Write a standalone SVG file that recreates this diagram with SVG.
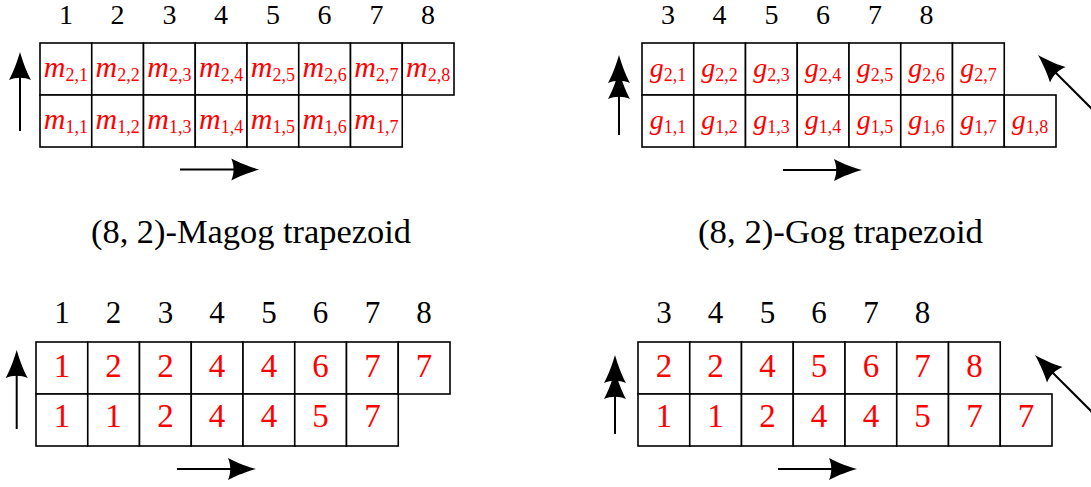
<svg xmlns="http://www.w3.org/2000/svg" xmlns:xlink="http://www.w3.org/1999/xlink" width="1091" height="487" viewBox="0 0 1091 487">
<style>
.cell{fill:#fff;stroke:#000;stroke-width:1.6}
.num{font-family:"Liberation Serif",serif;fill:#000;text-anchor:middle}
.n1{font-size:28px}
.n2{font-size:31px}
.lab{font-family:"Liberation Serif",serif;fill:#ff0000;text-anchor:middle;font-size:28px}
.lab .v{font-style:italic}
.lab .mv{font-style:italic;font-size:30px}
.lab .s{font-size:18px}
.val{font-family:"Liberation Serif",serif;fill:#ff0000;text-anchor:middle;font-size:33px}
.cap{font-family:"Liberation Serif",serif;fill:#000;font-size:34px}
.ln{stroke:#000;stroke-width:2;fill:none}
.hd{fill:#000}
</style>
<defs>
<path id="ah" class="hd" d="M0,0 C-7,-2 -19,-6 -28,-11 C-25,-4 -25,4 -28,11 C-19,6 -7,2 0,0Z"/>
</defs>

<!-- Magog symbolic -->
<g id="magog-sym">
<g id="magog-sym-cols" class="num n1">
<text x="65.9" y="24">1</text><text x="117.6" y="24">2</text><text x="169.4" y="24">3</text><text x="221.1" y="24">4</text><text x="272.9" y="24">5</text><text x="324.6" y="24">6</text><text x="376.4" y="24">7</text><text x="428.1" y="24">8</text>
</g>
<g id="m21"><rect class="cell" x="40" y="43" width="51.75" height="52"/><text class="lab" x="65.9" y="77"><tspan class="mv">m</tspan><tspan class="s" dy="4">2,1</tspan></text></g>
<g id="m22"><rect class="cell" x="91.75" y="43" width="51.75" height="52"/><text class="lab" x="117.6" y="77"><tspan class="mv">m</tspan><tspan class="s" dy="4">2,2</tspan></text></g>
<g id="m23"><rect class="cell" x="143.5" y="43" width="51.75" height="52"/><text class="lab" x="169.4" y="77"><tspan class="mv">m</tspan><tspan class="s" dy="4">2,3</tspan></text></g>
<g id="m24"><rect class="cell" x="195.25" y="43" width="51.75" height="52"/><text class="lab" x="221.1" y="77"><tspan class="mv">m</tspan><tspan class="s" dy="4">2,4</tspan></text></g>
<g id="m25"><rect class="cell" x="247" y="43" width="51.75" height="52"/><text class="lab" x="272.9" y="77"><tspan class="mv">m</tspan><tspan class="s" dy="4">2,5</tspan></text></g>
<g id="m26"><rect class="cell" x="298.75" y="43" width="51.75" height="52"/><text class="lab" x="324.6" y="77"><tspan class="mv">m</tspan><tspan class="s" dy="4">2,6</tspan></text></g>
<g id="m27"><rect class="cell" x="350.5" y="43" width="51.75" height="52"/><text class="lab" x="376.4" y="77"><tspan class="mv">m</tspan><tspan class="s" dy="4">2,7</tspan></text></g>
<g id="m28"><rect class="cell" x="402.25" y="43" width="51.75" height="52"/><text class="lab" x="428.1" y="77"><tspan class="mv">m</tspan><tspan class="s" dy="4">2,8</tspan></text></g>
<g id="m11"><rect class="cell" x="40" y="95" width="51.75" height="52"/><text class="lab" x="65.9" y="129"><tspan class="mv">m</tspan><tspan class="s" dy="4">1,1</tspan></text></g>
<g id="m12"><rect class="cell" x="91.75" y="95" width="51.75" height="52"/><text class="lab" x="117.6" y="129"><tspan class="mv">m</tspan><tspan class="s" dy="4">1,2</tspan></text></g>
<g id="m13"><rect class="cell" x="143.5" y="95" width="51.75" height="52"/><text class="lab" x="169.4" y="129"><tspan class="mv">m</tspan><tspan class="s" dy="4">1,3</tspan></text></g>
<g id="m14"><rect class="cell" x="195.25" y="95" width="51.75" height="52"/><text class="lab" x="221.1" y="129"><tspan class="mv">m</tspan><tspan class="s" dy="4">1,4</tspan></text></g>
<g id="m15"><rect class="cell" x="247" y="95" width="51.75" height="52"/><text class="lab" x="272.9" y="129"><tspan class="mv">m</tspan><tspan class="s" dy="4">1,5</tspan></text></g>
<g id="m16"><rect class="cell" x="298.75" y="95" width="51.75" height="52"/><text class="lab" x="324.6" y="129"><tspan class="mv">m</tspan><tspan class="s" dy="4">1,6</tspan></text></g>
<g id="m17"><rect class="cell" x="350.5" y="95" width="51.75" height="52"/><text class="lab" x="376.4" y="129"><tspan class="mv">m</tspan><tspan class="s" dy="4">1,7</tspan></text></g>
</g>
<text id="cap-magog" class="cap" x="91" y="243" textLength="320" lengthAdjust="spacingAndGlyphs">(8, 2)-Magog trapezoid</text>

<!-- Gog symbolic -->
<g id="gog-sym">
<g id="gog-sym-cols" class="num n1">
<text x="667.9" y="24">3</text><text x="719.6" y="24">4</text><text x="771.4" y="24">5</text><text x="823.1" y="24">6</text><text x="874.9" y="24">7</text><text x="926.6" y="24">8</text>
</g>
<g id="g21"><rect class="cell" x="642" y="43" width="51.75" height="52"/><text class="lab" x="667.9" y="77"><tspan class="v">g</tspan><tspan class="s" dy="4">2,1</tspan></text></g>
<g id="g22"><rect class="cell" x="693.75" y="43" width="51.75" height="52"/><text class="lab" x="719.6" y="77"><tspan class="v">g</tspan><tspan class="s" dy="4">2,2</tspan></text></g>
<g id="g23"><rect class="cell" x="745.5" y="43" width="51.75" height="52"/><text class="lab" x="771.4" y="77"><tspan class="v">g</tspan><tspan class="s" dy="4">2,3</tspan></text></g>
<g id="g24"><rect class="cell" x="797.25" y="43" width="51.75" height="52"/><text class="lab" x="823.1" y="77"><tspan class="v">g</tspan><tspan class="s" dy="4">2,4</tspan></text></g>
<g id="g25"><rect class="cell" x="849" y="43" width="51.75" height="52"/><text class="lab" x="874.9" y="77"><tspan class="v">g</tspan><tspan class="s" dy="4">2,5</tspan></text></g>
<g id="g26"><rect class="cell" x="900.75" y="43" width="51.75" height="52"/><text class="lab" x="926.6" y="77"><tspan class="v">g</tspan><tspan class="s" dy="4">2,6</tspan></text></g>
<g id="g27"><rect class="cell" x="952.5" y="43" width="51.75" height="52"/><text class="lab" x="978.4" y="77"><tspan class="v">g</tspan><tspan class="s" dy="4">2,7</tspan></text></g>
<g id="g11"><rect class="cell" x="642" y="95" width="51.75" height="52"/><text class="lab" x="667.9" y="129"><tspan class="v">g</tspan><tspan class="s" dy="4">1,1</tspan></text></g>
<g id="g12"><rect class="cell" x="693.75" y="95" width="51.75" height="52"/><text class="lab" x="719.6" y="129"><tspan class="v">g</tspan><tspan class="s" dy="4">1,2</tspan></text></g>
<g id="g13"><rect class="cell" x="745.5" y="95" width="51.75" height="52"/><text class="lab" x="771.4" y="129"><tspan class="v">g</tspan><tspan class="s" dy="4">1,3</tspan></text></g>
<g id="g14"><rect class="cell" x="797.25" y="95" width="51.75" height="52"/><text class="lab" x="823.1" y="129"><tspan class="v">g</tspan><tspan class="s" dy="4">1,4</tspan></text></g>
<g id="g15"><rect class="cell" x="849" y="95" width="51.75" height="52"/><text class="lab" x="874.9" y="129"><tspan class="v">g</tspan><tspan class="s" dy="4">1,5</tspan></text></g>
<g id="g16"><rect class="cell" x="900.75" y="95" width="51.75" height="52"/><text class="lab" x="926.6" y="129"><tspan class="v">g</tspan><tspan class="s" dy="4">1,6</tspan></text></g>
<g id="g17"><rect class="cell" x="952.5" y="95" width="51.75" height="52"/><text class="lab" x="978.4" y="129"><tspan class="v">g</tspan><tspan class="s" dy="4">1,7</tspan></text></g>
<g id="g18"><rect class="cell" x="1004.25" y="95" width="51.75" height="52"/><text class="lab" x="1030.1" y="129"><tspan class="v">g</tspan><tspan class="s" dy="4">1,8</tspan></text></g>
</g>
<text id="cap-gog" class="cap" x="698" y="243" textLength="285" lengthAdjust="spacingAndGlyphs">(8, 2)-Gog trapezoid</text>

<!-- Magog numeric -->
<g id="magog-num">
<g id="magog-num-cols" class="num n2">
<text x="61.9" y="323">1</text><text x="113.6" y="323">2</text><text x="165.4" y="323">3</text><text x="217.1" y="323">4</text><text x="268.9" y="323">5</text><text x="320.6" y="323">6</text><text x="372.4" y="323">7</text><text x="424.1" y="323">8</text>
</g>
<g id="mn21"><rect class="cell" x="36" y="342" width="51.75" height="52"/><text class="val" x="61.9" y="377">1</text></g>
<g id="mn22"><rect class="cell" x="87.75" y="342" width="51.75" height="52"/><text class="val" x="113.6" y="377">2</text></g>
<g id="mn23"><rect class="cell" x="139.5" y="342" width="51.75" height="52"/><text class="val" x="165.4" y="377">2</text></g>
<g id="mn24"><rect class="cell" x="191.25" y="342" width="51.75" height="52"/><text class="val" x="217.1" y="377">4</text></g>
<g id="mn25"><rect class="cell" x="243" y="342" width="51.75" height="52"/><text class="val" x="268.9" y="377">4</text></g>
<g id="mn26"><rect class="cell" x="294.75" y="342" width="51.75" height="52"/><text class="val" x="320.6" y="377">6</text></g>
<g id="mn27"><rect class="cell" x="346.5" y="342" width="51.75" height="52"/><text class="val" x="372.4" y="377">7</text></g>
<g id="mn28"><rect class="cell" x="398.25" y="342" width="51.75" height="52"/><text class="val" x="424.1" y="377">7</text></g>
<g id="mn11"><rect class="cell" x="36" y="394" width="51.75" height="52"/><text class="val" x="61.9" y="427">1</text></g>
<g id="mn12"><rect class="cell" x="87.75" y="394" width="51.75" height="52"/><text class="val" x="113.6" y="427">1</text></g>
<g id="mn13"><rect class="cell" x="139.5" y="394" width="51.75" height="52"/><text class="val" x="165.4" y="427">2</text></g>
<g id="mn14"><rect class="cell" x="191.25" y="394" width="51.75" height="52"/><text class="val" x="217.1" y="427">4</text></g>
<g id="mn15"><rect class="cell" x="243" y="394" width="51.75" height="52"/><text class="val" x="268.9" y="427">4</text></g>
<g id="mn16"><rect class="cell" x="294.75" y="394" width="51.75" height="52"/><text class="val" x="320.6" y="427">5</text></g>
<g id="mn17"><rect class="cell" x="346.5" y="394" width="51.75" height="52"/><text class="val" x="372.4" y="427">7</text></g>
</g>

<!-- Gog numeric -->
<g id="gog-num">
<g id="gog-num-cols" class="num n2">
<text x="663.9" y="323">3</text><text x="715.6" y="323">4</text><text x="767.4" y="323">5</text><text x="819.1" y="323">6</text><text x="870.9" y="323">7</text><text x="922.6" y="323">8</text>
</g>
<g id="gn21"><rect class="cell" x="638" y="342" width="51.75" height="52"/><text class="val" x="663.9" y="377">2</text></g>
<g id="gn22"><rect class="cell" x="689.75" y="342" width="51.75" height="52"/><text class="val" x="715.6" y="377">2</text></g>
<g id="gn23"><rect class="cell" x="741.5" y="342" width="51.75" height="52"/><text class="val" x="767.4" y="377">4</text></g>
<g id="gn24"><rect class="cell" x="793.25" y="342" width="51.75" height="52"/><text class="val" x="819.1" y="377">5</text></g>
<g id="gn25"><rect class="cell" x="845" y="342" width="51.75" height="52"/><text class="val" x="870.9" y="377">6</text></g>
<g id="gn26"><rect class="cell" x="896.75" y="342" width="51.75" height="52"/><text class="val" x="922.6" y="377">7</text></g>
<g id="gn27"><rect class="cell" x="948.5" y="342" width="51.75" height="52"/><text class="val" x="974.4" y="377">8</text></g>
<g id="gn11"><rect class="cell" x="638" y="394" width="51.75" height="52"/><text class="val" x="663.9" y="427">1</text></g>
<g id="gn12"><rect class="cell" x="689.75" y="394" width="51.75" height="52"/><text class="val" x="715.6" y="427">1</text></g>
<g id="gn13"><rect class="cell" x="741.5" y="394" width="51.75" height="52"/><text class="val" x="767.4" y="427">2</text></g>
<g id="gn14"><rect class="cell" x="793.25" y="394" width="51.75" height="52"/><text class="val" x="819.1" y="427">4</text></g>
<g id="gn15"><rect class="cell" x="845" y="394" width="51.75" height="52"/><text class="val" x="870.9" y="427">4</text></g>
<g id="gn16"><rect class="cell" x="896.75" y="394" width="51.75" height="52"/><text class="val" x="922.6" y="427">5</text></g>
<g id="gn17"><rect class="cell" x="948.5" y="394" width="51.75" height="52"/><text class="val" x="974.4" y="427">7</text></g>
<g id="gn18"><rect class="cell" x="1000.25" y="394" width="51.75" height="52"/><text class="val" x="1026.1" y="427">7</text></g>
</g>

<!-- connectors / arrows -->
<g id="arrows">
<line class="ln" x1="20" y1="131" x2="20" y2="72"/>
<use xlink:href="#ah" href="#ah" transform="translate(20,52) rotate(-90)"/>
<line class="ln" x1="180" y1="169.5" x2="240" y2="169.5"/>
<use xlink:href="#ah" href="#ah" transform="translate(259.3,169.5)"/>

<line class="ln" x1="619" y1="135" x2="619" y2="90"/>
<use xlink:href="#ah" href="#ah" transform="translate(619,55) rotate(-90)"/>
<use xlink:href="#ah" href="#ah" transform="translate(619,71) rotate(-90)"/>
<line class="ln" x1="783" y1="170" x2="843" y2="170"/>
<use xlink:href="#ah" href="#ah" transform="translate(862,170)"/>
<line class="ln" x1="1100" y1="117" x2="1052" y2="69"/>
<use xlink:href="#ah" href="#ah" transform="translate(1038,55) rotate(-135)"/>

<line class="ln" x1="16.7" y1="429" x2="16.7" y2="370"/>
<use xlink:href="#ah" href="#ah" transform="translate(16.7,350) rotate(-90)"/>
<line class="ln" x1="177" y1="469" x2="237" y2="469"/>
<use xlink:href="#ah" href="#ah" transform="translate(256,469)"/>

<line class="ln" x1="615" y1="434" x2="615" y2="390"/>
<use xlink:href="#ah" href="#ah" transform="translate(615,355) rotate(-90)"/>
<use xlink:href="#ah" href="#ah" transform="translate(615,371) rotate(-90)"/>
<line class="ln" x1="778" y1="469" x2="838" y2="469"/>
<use xlink:href="#ah" href="#ah" transform="translate(857,469)"/>
<line class="ln" x1="1097" y1="417" x2="1049" y2="369"/>
<use xlink:href="#ah" href="#ah" transform="translate(1035,355) rotate(-135)"/>
</g>
</svg>
